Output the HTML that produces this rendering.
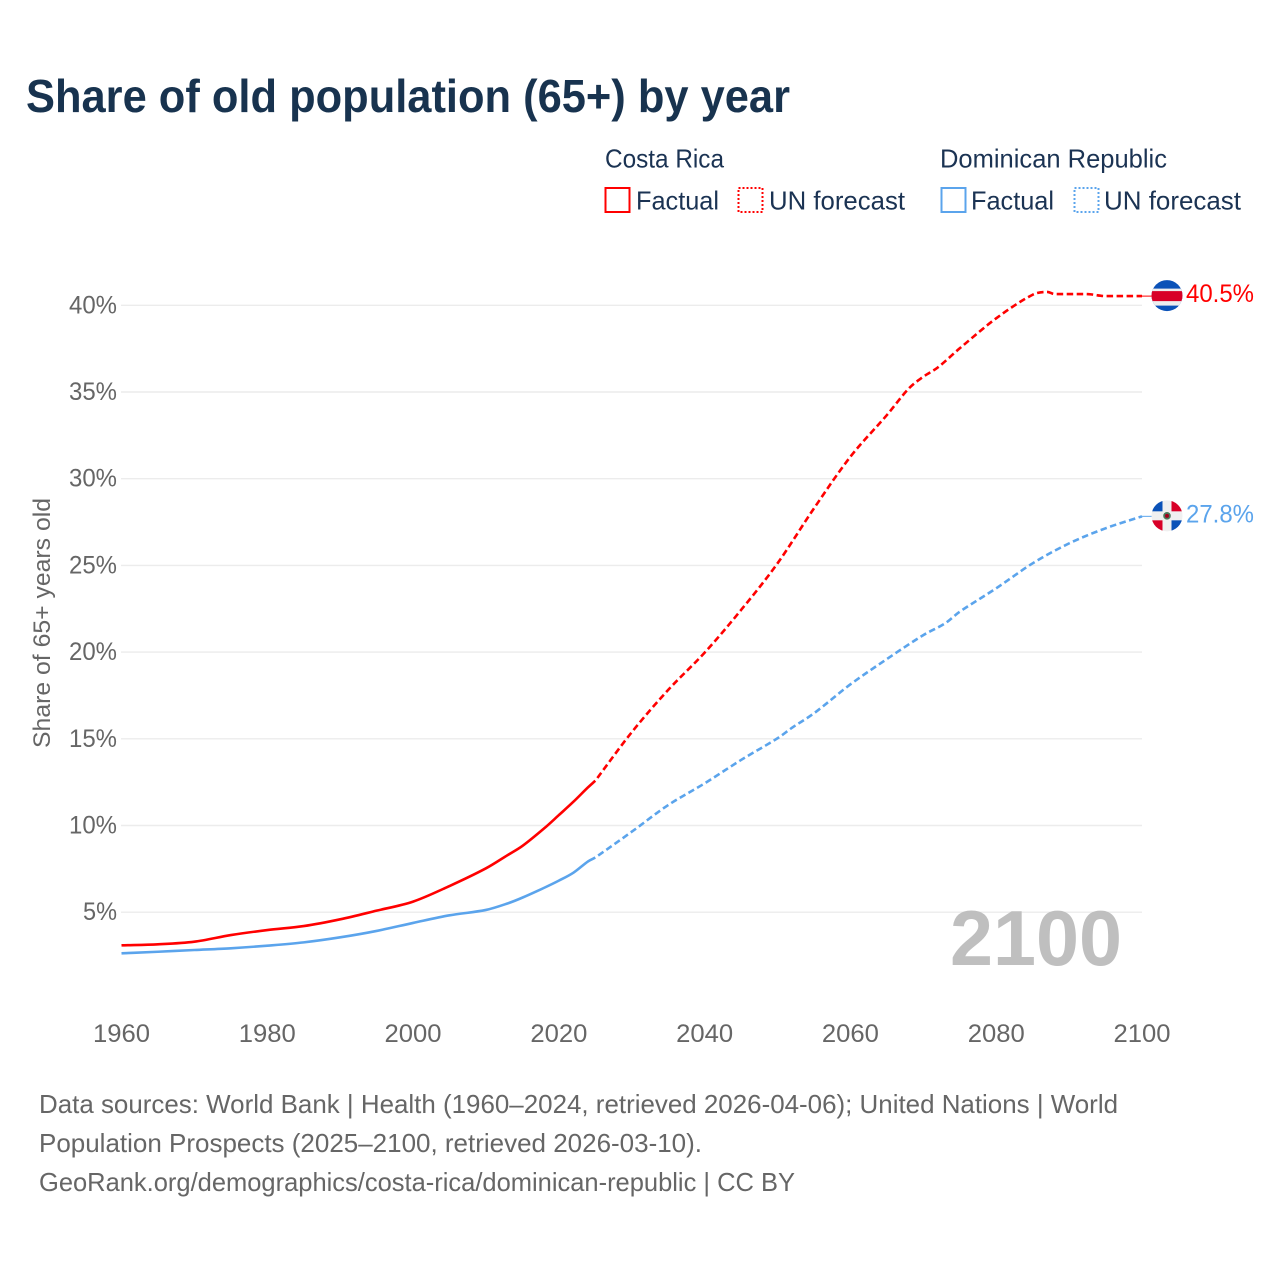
<!DOCTYPE html>
<html lang="en">
<head>
<meta charset="utf-8">
<title>Share of old population (65+) by year</title>
<style>
html,body{margin:0;padding:0;background:#fff;width:1280px;height:1280px;overflow:hidden}
svg{display:block}
text{font-family:"Liberation Sans",sans-serif}
</style>
</head>
<body>
<svg id="chart" xmlns="http://www.w3.org/2000/svg" width="1280" height="1280" viewBox="0 0 1280 1280">
  <defs>
    <clipPath id="flag-clip"><circle cx="0" cy="0" r="15.5"></circle></clipPath>
  </defs>
  <rect x="0" y="0" width="1280" height="1280" fill="#fff"></rect>

  <text x="26" y="112" font-size="46" font-weight="700" fill="#18334f" textLength="764" lengthAdjust="spacingAndGlyphs">Share of old population (65+) by year</text>

  <g font-size="26" fill="#1b3353">
    <text x="605" y="167.5" textLength="119" lengthAdjust="spacingAndGlyphs">Costa Rica</text>
    <rect x="605.5" y="188" width="24" height="24" fill="none" stroke="#ff0000" stroke-width="2"></rect>
    <text x="636" y="209.5" textLength="83" lengthAdjust="spacingAndGlyphs">Factual</text>
    <rect x="738.5" y="188" width="24" height="24" fill="none" stroke="#ff0000" stroke-width="2" stroke-dasharray="2 2"></rect>
    <text x="769" y="209.5" textLength="136" lengthAdjust="spacingAndGlyphs">UN forecast</text>

    <text x="940" y="167.5" textLength="227" lengthAdjust="spacingAndGlyphs">Dominican Republic</text>
    <rect x="941.5" y="188" width="24" height="24" fill="none" stroke="#5ba4ec" stroke-width="2"></rect>
    <text x="971" y="209.5" textLength="83" lengthAdjust="spacingAndGlyphs">Factual</text>
    <rect x="1074.5" y="188" width="24" height="24" fill="none" stroke="#5ba4ec" stroke-width="2" stroke-dasharray="2 2"></rect>
    <text x="1104" y="209.5" textLength="137" lengthAdjust="spacingAndGlyphs">UN forecast</text>
  </g>

  <g id="grid"></g>
  <g id="y-ticks"></g>
  <g id="x-ticks"></g>

  <text transform="translate(50,623) rotate(-90)" text-anchor="middle" font-size="24.5" fill="#666" textLength="250" lengthAdjust="spacingAndGlyphs">Share of 65+ years old</text>

  <text id="year-watermark" x="950" y="965" font-size="78" font-weight="700" fill="#bfbfbf" textLength="172" lengthAdjust="spacingAndGlyphs"></text>

  <g id="series"></g>

  <g id="flag-cr">
    <g clip-path="url(#flag-clip)">
      <rect x="-16" y="-16" width="32" height="32" fill="#0b52b8"></rect>
      <rect x="-16" y="-7" width="32" height="17" fill="#eeeeee"></rect>
      <rect x="-16" y="-4.5" width="32" height="10" fill="#d80027"></rect>
    </g>
  </g>
  <g id="flag-do">
    <g clip-path="url(#flag-clip)">
      <rect x="-16" y="-16" width="32" height="32" fill="#f0f0f0"></rect>
      <rect x="-16" y="-16" width="11.5" height="11.5" fill="#0b52b8"></rect>
      <rect x="4.5" y="-16" width="11.5" height="11.5" fill="#d80027"></rect>
      <rect x="-16" y="4.5" width="11.5" height="11.5" fill="#d80027"></rect>
      <rect x="4.5" y="4.5" width="11.5" height="11.5" fill="#0b52b8"></rect>
      <circle cx="0" cy="0" r="3.8" fill="#4d7a5c"></circle>
      <circle cx="0" cy="0" r="2" fill="#a2001d"></circle>
    </g>
  </g>
  <text id="label-cr" x="1186" font-size="25" fill="#ff0000" textLength="68" lengthAdjust="spacingAndGlyphs"></text>
  <text id="label-do" x="1186" font-size="25" fill="#5ba4ec" textLength="68" lengthAdjust="spacingAndGlyphs"></text>

  <g font-size="26" fill="#666">
    <text x="39" y="1113" textLength="1079" lengthAdjust="spacingAndGlyphs">Data sources: World Bank | Health (1960–2024, retrieved 2026-04-06); United Nations | World</text>
    <text x="39" y="1152" textLength="663" lengthAdjust="spacingAndGlyphs">Population Prospects (2025–2100, retrieved 2026-03-10).</text>
    <text x="39" y="1191" textLength="756" lengthAdjust="spacingAndGlyphs">GeoRank.org/demographics/costa-rica/dominican-republic | CC BY</text>
  </g>
</svg>
<script>
var xTickYears = [1960, 1980, 2000, 2020, 2040, 2060, 2080, 2100];
var yTickValues = [5, 10, 15, 20, 25, 30, 35, 40];

var factualYears = [1960, 1965, 1970, 1975, 1980, 1985, 1990, 1995, 2000, 2005, 2010, 2013, 2015, 2018, 2020, 2022, 2024, 2025];
var costaRicaFactual = [3.09, 3.15, 3.30, 3.68, 3.97, 4.20, 4.59, 5.09, 5.61, 6.51, 7.53, 8.30, 8.82, 9.84, 10.60, 11.37, 12.20, 12.58];
var dominicanFactual = [2.63, 2.72, 2.82, 2.92, 3.07, 3.26, 3.55, 3.92, 4.38, 4.82, 5.13, 5.51, 5.84, 6.41, 6.82, 7.28, 7.93, 8.15];

var costaRicaForecastYears = [2025, 2030, 2035, 2040, 2045, 2050, 2055, 2060, 2065, 2068, 2070, 2072, 2075, 2080, 2085, 2087, 2088, 2090, 2092, 2093, 2095, 2100];
var costaRicaForecast = [12.58, 15.38, 17.82, 19.97, 22.43, 25.12, 28.29, 31.27, 33.67, 35.20, 35.88, 36.42, 37.52, 39.25, 40.61, 40.77, 40.65, 40.65, 40.65, 40.63, 40.53, 40.53];

var dominicanForecastYears = [2025, 2030, 2035, 2040, 2045, 2050, 2052, 2055, 2060, 2065, 2070, 2073, 2075, 2080, 2085, 2090, 2095, 2100];
var dominicanForecast = [8.15, 9.64, 11.18, 12.43, 13.78, 15.03, 15.64, 16.47, 18.14, 19.60, 20.98, 21.66, 22.33, 23.68, 25.12, 26.27, 27.14, 27.83];

var NS = 'http://www.w3.org/2000/svg';
var RED = '#ff0000';
var BLUE = '#5ba4ec';
function xScale(year) { return 121.5 + (year - 1960) * (1142 - 121.5) / 140; }
function yScale(value) { return 998.9 - value * 17.34; }
function make(tag, parent) {
  var el = document.createElementNS(NS, tag);
  parent.appendChild(el);
  return el;
}
function pathFrom(years, values) {
  var xs = years.map(xScale);
  var ys = values.map(yScale);
  var n = xs.length;
  var slopes = xs.map(function (x, i) {
    if (i === 0) { return (ys[1] - ys[0]) / (xs[1] - xs[0]); }
    if (i === n - 1) { return (ys[n - 1] - ys[n - 2]) / (xs[n - 1] - xs[n - 2]); }
    var before = ys[i] - ys[i - 1];
    var after = ys[i + 1] - ys[i];
    if (before * after <= 0) { return 0; }
    return (ys[i + 1] - ys[i - 1]) / (xs[i + 1] - xs[i - 1]);
  });
  var d = 'M' + xs[0].toFixed(2) + ' ' + ys[0].toFixed(2);
  for (var i = 1; i < n; i++) {
    var dx = (xs[i] - xs[i - 1]) / 3;
    d += ' C' + (xs[i - 1] + dx).toFixed(2) + ' ' + (ys[i - 1] + slopes[i - 1] * dx).toFixed(2) +
         ' ' + (xs[i] - dx).toFixed(2) + ' ' + (ys[i] - slopes[i] * dx).toFixed(2) +
         ' ' + xs[i].toFixed(2) + ' ' + ys[i].toFixed(2);
  }
  return d;
}

var gridGroup = document.getElementById('grid');
var yGroup = document.getElementById('y-ticks');
yTickValues.forEach(function (value) {
  var line = make('line', gridGroup);
  
  
  line.setAttribute('x1', 121);
  line.setAttribute('x2', 1142);
  line.setAttribute('y1', yScale(value));
  line.setAttribute('y2', yScale(value));
  line.setAttribute('stroke', '#ececec');
  line.setAttribute('stroke-width', '1.4');
  var label = make('text', yGroup);
  
  
  var text = value + '%';
  label.textContent = text;
  label.setAttribute('x', 117);
  label.setAttribute('y', yScale(value) + 8);
  label.setAttribute('text-anchor', 'end');
  label.setAttribute('font-size', '25');
  label.setAttribute('fill', '#666');
  label.setAttribute('textLength', 20 + (text.length - 1) * 14);
  label.setAttribute('lengthAdjust', 'spacingAndGlyphs');
});

var xGroup = document.getElementById('x-ticks');
xTickYears.forEach(function (year) {
  var label = make('text', xGroup);
  
  
  label.textContent = year;
  label.setAttribute('x', xScale(year));
  label.setAttribute('y', 1042);
  label.setAttribute('text-anchor', 'middle');
  label.setAttribute('font-size', '25');
  label.setAttribute('fill', '#666');
  label.setAttribute('textLength', '57');
  label.setAttribute('lengthAdjust', 'spacingAndGlyphs');
});

var seriesGroup = document.getElementById('series');
function drawLine(name, years, values, color, dashed) {
  var p = make('path', seriesGroup);
  
  
  p.setAttribute('d', pathFrom(years, values));
  p.setAttribute('fill', 'none');
  p.setAttribute('stroke', color);
  p.setAttribute('stroke-width', '2.6');
  p.setAttribute('stroke-linejoin', 'round');
  if (dashed) {
    p.setAttribute('stroke-dasharray', '6.5 3.5');
    p.setAttribute('stroke-dashoffset', '6.5');
  }
}
drawLine('line-costa-rica-factual', factualYears, costaRicaFactual, RED, false);
drawLine('line-dominican-factual', factualYears, dominicanFactual, BLUE, false);
drawLine('line-costa-rica-forecast', costaRicaForecastYears, costaRicaForecast, RED, true);
drawLine('line-dominican-forecast', dominicanForecastYears, dominicanForecast, BLUE, true);

function drawEnd(flagId, labelId, leaderName, years, values, color) {
  var lastYear = years[years.length - 1];
  var lastValue = values[values.length - 1];
  var y = yScale(lastValue);
  var leader = make('line', seriesGroup);
  
  
  leader.setAttribute('x1', xScale(lastYear));
  leader.setAttribute('x2', 1154);
  leader.setAttribute('y1', y);
  leader.setAttribute('y2', y);
  leader.setAttribute('stroke', color);
  leader.setAttribute('stroke-width', '1');
  document.getElementById(flagId).setAttribute('transform', 'translate(1167,' + (y - 0.5) + ')');
  var label = document.getElementById(labelId);
  label.setAttribute('y', y + 6);
  label.textContent = lastValue.toFixed(1) + '%';
}
drawEnd('flag-cr', 'label-cr', 'leader-costa-rica', costaRicaForecastYears, costaRicaForecast, RED);
drawEnd('flag-do', 'label-do', 'leader-dominican-republic', dominicanForecastYears, dominicanForecast, BLUE);

document.getElementById('year-watermark').textContent = costaRicaForecastYears[costaRicaForecastYears.length - 1];
</script>
</body>
</html>
